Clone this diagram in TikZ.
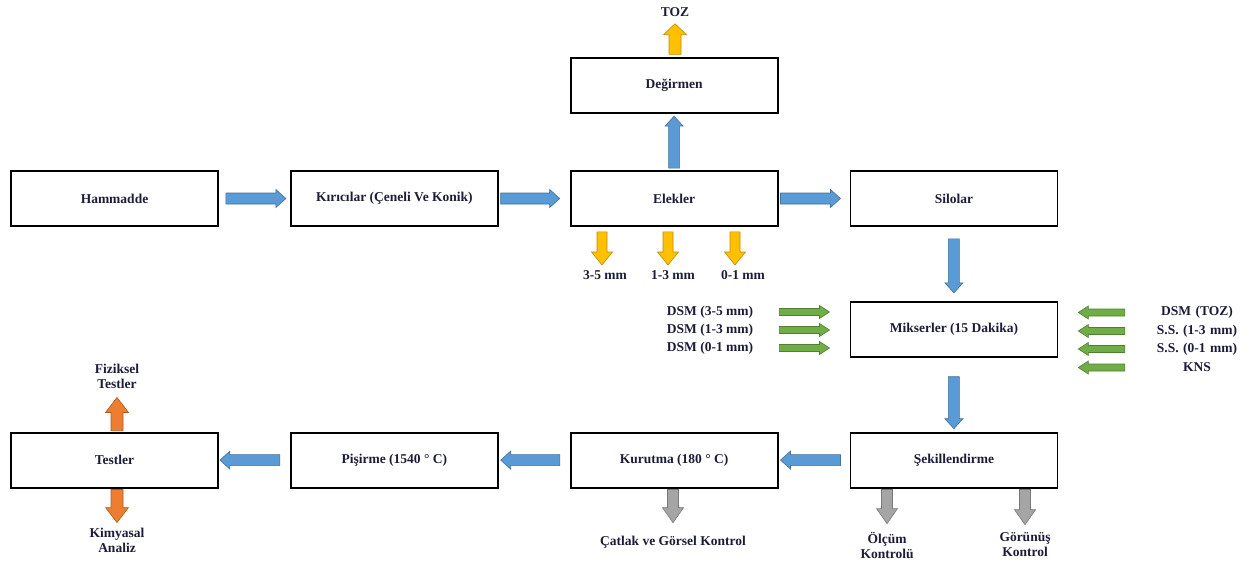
\documentclass[tikz,border=0pt]{standalone}
\usepackage{fontspec}
\setmainfont{Liberation Serif}
\usetikzlibrary{calc,positioning}

\definecolor{txt}{RGB}{28,28,56}
\definecolor{bfill}{HTML}{5B9BD5}
\definecolor{bline}{HTML}{41719C}
\definecolor{yfill}{HTML}{FFC000}
\definecolor{yline}{HTML}{BC8C00}
\definecolor{gfill}{HTML}{70AD47}
\definecolor{gline}{HTML}{507E32}
\definecolor{ofill}{HTML}{ED7D31}
\definecolor{oline}{HTML}{AE5A21}
\definecolor{afill}{HTML}{A5A5A5}
\definecolor{aline}{HTML}{787878}

% block arrow drawn as a connector: (a) to (b)
\tikzset{
  blk/shaft/.initial=5.5pt,
  blk/head/.initial=9pt,
  blk/tip/.initial=10pt,
  blk/pre/.initial=0pt,
  blk/post/.initial=0pt,
  blk/.style={line width=0.6pt, to path={
    let \p1=($(\tikztostart)!\pgfkeysvalueof{/tikz/blk/pre}!(\tikztotarget)$),
        \p2=($(\tikztotarget)!\pgfkeysvalueof{/tikz/blk/post}!(\tikztostart)$),
        \p3=($(\p2)!\pgfkeysvalueof{/tikz/blk/tip}!(\p1)$) in
    ($(\p1)!\pgfkeysvalueof{/tikz/blk/shaft}!90:(\p2)$)
    -- ($(\p3)!\pgfkeysvalueof{/tikz/blk/shaft}!90:(\p2)$)
    -- ($(\p3)!\pgfkeysvalueof{/tikz/blk/head}!90:(\p2)$)
    -- (\p2)
    -- ($(\p3)!\pgfkeysvalueof{/tikz/blk/head}!-90:(\p2)$)
    -- ($(\p3)!\pgfkeysvalueof{/tikz/blk/shaft}!-90:(\p2)$)
    -- ($(\p1)!\pgfkeysvalueof{/tikz/blk/shaft}!-90:(\p2)$)
    -- cycle}}
}

\begin{document}
\begin{tikzpicture}[
  x=1pt, y=-1pt,
  box/.style={rectangle,draw,line width=1.8pt,minimum width=207pt,minimum height=55pt,
    font=\fontsize{13.5}{15}\selectfont\bfseries,text=txt},
  lbl/.style={inner sep=0pt,align=center,font=\fontsize{13.5}{15}\selectfont\bfseries,text=txt},
  rlbl/.style={lbl,text width=100pt},
  bluearr/.style={blk,fill=bfill,draw=bline},
  yelarr/.style={blk,fill=yfill,draw=yline},
  grnarr/.style={blk,fill=gfill,draw=gline,blk/shaft=3.5pt,blk/head=6.5pt,blk/tip=10pt},
  orgarr/.style={blk,fill=ofill,draw=oline,blk/shaft=6pt,blk/head=11.5pt,blk/tip=15pt},
  grayarr/.style={blk,fill=afill,draw=aline,blk/shaft=5.5pt,blk/head=10.5pt,blk/tip=15pt}
]
\useasboundingbox (0,0) rectangle (1253,560);

% top row
\node[box] (ham) at (114.5,198.5) {Hammadde};
\node[box,right=71pt of ham] (kir) {Kırıcılar (Çeneli Ve Konik)};
\node[box,right=71pt of kir] (elk) {Elekler};
\node[box,right=71pt of elk] (silo) {Silolar};
\node[box,above=56pt of elk] (deg) {Değirmen};
\node[box,below=74pt of silo] (mix) {Mikserler (15 Dakika)};

% bottom row
\node[box,below=74pt of mix] (sek) {Şekillendirme};
\node[box,left=71pt of sek] (kur) {Kurutma (180 ° C)};
\node[box,left=71pt of kur] (pis) {Pişirme (1540 ° C)};
\node[box,left=71pt of pis] (test) {Testler};

% main flow
\draw[bluearr,blk/pre=7pt,blk/post=4pt] (ham.east) to (kir.west);
\draw[bluearr,blk/pre=2pt,blk/post=10pt] (kir.east) to (elk.west);
\draw[bluearr,blk/pre=2pt,blk/post=9pt] (elk.east) to (silo.west);
\draw[bluearr,blk/pre=2pt,blk/post=2pt] (elk.north) to (deg.south);
\draw[bluearr,blk/pre=12pt,blk/post=8pt] (silo.south) to (mix.north);
\draw[bluearr,blk/pre=19pt,blk/post=3pt] (mix.south) to (sek.north);
\draw[bluearr,blk/pre=9pt,blk/post=2pt] (sek.west) to (kur.east);
\draw[bluearr,blk/pre=10pt,blk/post=2pt] (kur.west) to (pis.east);
\draw[bluearr,blk/pre=10pt,blk/post=1pt] (pis.west) to (test.east);

% mill output
\node[lbl] (toz) at (675,12) {TOZ};
\draw[yelarr,blk/shaft=6pt,blk/head=11.5pt,blk/tip=11pt,blk/pre=3pt,blk/post=7pt] (toz.south |- deg.north) to (toz.south);

% sieve outputs
\coordinate (d35) at (602,265);
\coordinate (d13) at (668,265);
\coordinate (d01) at (735,265);
\node[lbl,below=5pt of d35,xshift=3pt] (l35) {3-5 mm};
\node[lbl,below=5pt of d13,xshift=5pt] (l13) {1-3 mm};
\node[lbl,below=5pt of d01,xshift=8pt] (l01) {0-1 mm};
\draw[yelarr,blk/shaft=5pt,blk/head=10.5pt,blk/tip=13pt,blk/pre=5pt] (elk.south -| d35) to (d35);
\draw[yelarr,blk/shaft=5pt,blk/head=10.5pt,blk/tip=13pt,blk/pre=5pt] (elk.south -| d13) to (d13);
\draw[yelarr,blk/shaft=5pt,blk/head=10.5pt,blk/tip=13pt,blk/pre=5pt] (elk.south -| d01) to (d01);

% mixer inputs, left
\node[lbl] (dl1) at (710,312) {DSM (3-5 mm)};
\node[lbl] (dl2) at (710,330) {DSM (1-3 mm)};
\node[lbl] (dl3) at (710,348) {DSM (0-1 mm)};
\draw[grnarr,blk/pre=26pt,blk/post=20pt] (dl1.east) to (dl1.east -| mix.west);
\draw[grnarr,blk/pre=26pt,blk/post=20pt] (dl2.east) to (dl2.east -| mix.west);
\draw[grnarr,blk/pre=26pt,blk/post=20pt] (dl3.east) to (dl3.east -| mix.west);

% mixer inputs, right
\node[rlbl] (dr1) at (1197,312.5) {DSM (TOZ)};
\node[rlbl] (dr2) at (1197,331) {S.S. (1-3 mm)};
\node[rlbl] (dr3) at (1197,349) {S.S. (0-1 mm)};
\node[rlbl] (dr4) at (1197,367.5) {KNS};
\draw[grnarr,blk/pre=22pt,blk/post=20pt] (dr1.west) to (dr1.west -| mix.east);
\draw[grnarr,blk/pre=22pt,blk/post=20pt] (dr2.west) to (dr2.west -| mix.east);
\draw[grnarr,blk/pre=22pt,blk/post=20pt] (dr3.west) to (dr3.west -| mix.east);
\draw[grnarr,blk/pre=22pt,blk/post=20pt] (dr4.west) to (dr4.west -| mix.east);

% tests
\node[lbl] (fiz) at (117,376) {Fiziksel\\Testler};
\node[lbl] (kim) at (117,540) {Kimyasal\\Analiz};
\draw[orgarr,blk/pre=1pt,blk/post=9pt] (fiz.south |- test.north) to (fiz.south);
\draw[orgarr,blk/pre=1pt,blk/post=5pt] (kim.north |- test.south) to (kim.north);

% checks
\node[lbl] (catlak) at (673,542) {Çatlak ve Görsel Kontrol};
\node[lbl] (olcum) at (887,545) {Ölçüm\\Kontrolü};
\node[lbl] (gorunus) at (1025,545) {Görünüş\\Kontrol};
\draw[grayarr,blk/pre=1pt,blk/post=13pt] (catlak.north |- kur.south) to (catlak.north);
\draw[grayarr,blk/pre=1pt,blk/post=8pt] (olcum.north |- sek.south) to (olcum.north);
\draw[grayarr,blk/pre=1pt,blk/post=8pt] (gorunus.north |- sek.south) to (gorunus.north);
\end{tikzpicture}
\end{document}
